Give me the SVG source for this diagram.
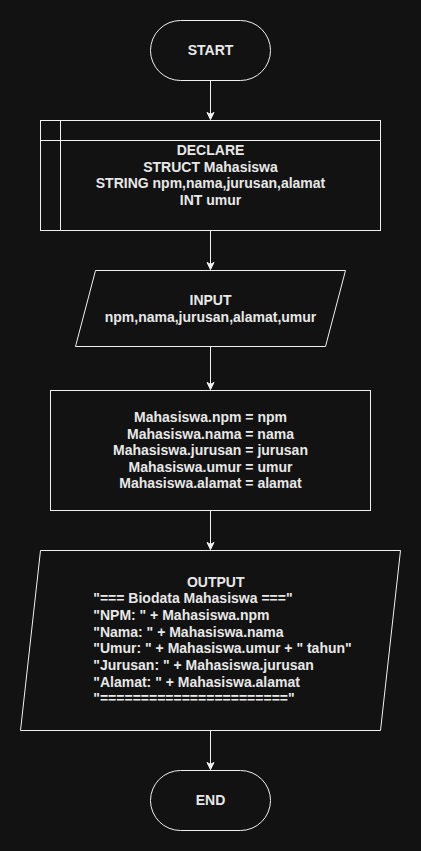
<svg xmlns="http://www.w3.org/2000/svg" width="421" height="851" viewBox="0 0 421 851">
<defs>
<style>
.shape{fill:#121212;stroke:#f0f0f0;stroke-width:1}
.t{font-family:"Liberation Sans",Arial,sans-serif;font-size:14px;font-weight:bold;fill:#e8e8e8}
.c{text-anchor:middle}
.edge{stroke:#f0f0f0;stroke-width:1;fill:none}
</style>
<marker id="arr" markerWidth="10" markerHeight="10" viewBox="0 0 10 10" refX="8" refY="5" orient="auto" markerUnits="userSpaceOnUse">
<path d="M1,1.5 L8,5 L1,8.5 L2.8,5 Z" fill="#f0f0f0" stroke="#f0f0f0" stroke-width="1"/>
</marker>
</defs>
<rect x="0" y="0" width="421" height="851" fill="#121212"/>
<g id="connectors">
<path class="edge" d="M210.5,80.5 V119.5" marker-end="url(#arr)"/>
<path class="edge" d="M210.5,230.5 V269.5" marker-end="url(#arr)"/>
<path class="edge" d="M210.5,346.5 V389.5" marker-end="url(#arr)"/>
<path class="edge" d="M210.5,510.5 V549.5" marker-end="url(#arr)"/>
<path class="edge" d="M210.5,730.5 V769.5" marker-end="url(#arr)"/>
</g>
<g id="start">
<rect class="shape" x="150.5" y="20.5" width="120" height="60" rx="30" ry="30"/>
<text class="t c" x="210.5" y="55">START</text>
</g>
<g id="declare">
<rect class="shape" x="40.5" y="120.5" width="340" height="110"/>
<path class="edge" d="M60.5,120.5 V230.5 M40.5,140.5 H380.5"/>
<text class="t c" x="210.5" y="155">DECLARE</text>
<text class="t c" x="210.5" y="171.5">STRUCT Mahasiswa</text>
<text class="t c" x="210.5" y="188">STRING npm,nama,jurusan,alamat</text>
<text class="t c" x="210.5" y="204.5">INT umur</text>
</g>
<g id="input">
<polygon class="shape" points="95.5,270.5 345.5,270.5 325.5,346.5 75.5,346.5"/>
<text class="t c" x="210.5" y="305">INPUT</text>
<text class="t c" x="210.5" y="322">npm,nama,jurusan,alamat,umur</text>
</g>
<g id="assign">
<rect class="shape" x="50.5" y="390.5" width="320" height="120"/>
<text class="t c" x="210.5" y="422">Mahasiswa.npm = npm</text>
<text class="t c" x="210.5" y="438.5">Mahasiswa.nama = nama</text>
<text class="t c" x="210.5" y="455">Mahasiswa.jurusan = jurusan</text>
<text class="t c" x="210.5" y="471.5">Mahasiswa.umur = umur</text>
<text class="t c" x="210.5" y="488">Mahasiswa.alamat = alamat</text>
</g>
<g id="output">
<polygon class="shape" points="40.5,550.5 400.5,550.5 380.5,730.5 20.5,730.5"/>
<text class="t c" x="215.7" y="586.5">OUTPUT</text>
<text class="t" x="93.3" y="603">"=== Biodata Mahasiswa ==="</text>
<text class="t" x="93.3" y="620">"NPM: " + Mahasiswa.npm</text>
<text class="t" x="93.3" y="636.5">"Nama: " + Mahasiswa.nama</text>
<text class="t" x="93.3" y="653">"Umur: " + Mahasiswa.umur + " tahun"</text>
<text class="t" x="93.3" y="670">"Jurusan: " + Mahasiswa.jurusan</text>
<text class="t" x="93.3" y="686.5">"Alamat: " + Mahasiswa.alamat</text>
<text class="t" x="93.3" y="703">"======================="</text>
</g>
<g id="end">
<rect class="shape" x="150.5" y="770.5" width="120" height="60" rx="30" ry="30"/>
<text class="t c" x="210.5" y="805">END</text>
</g>
</svg>
